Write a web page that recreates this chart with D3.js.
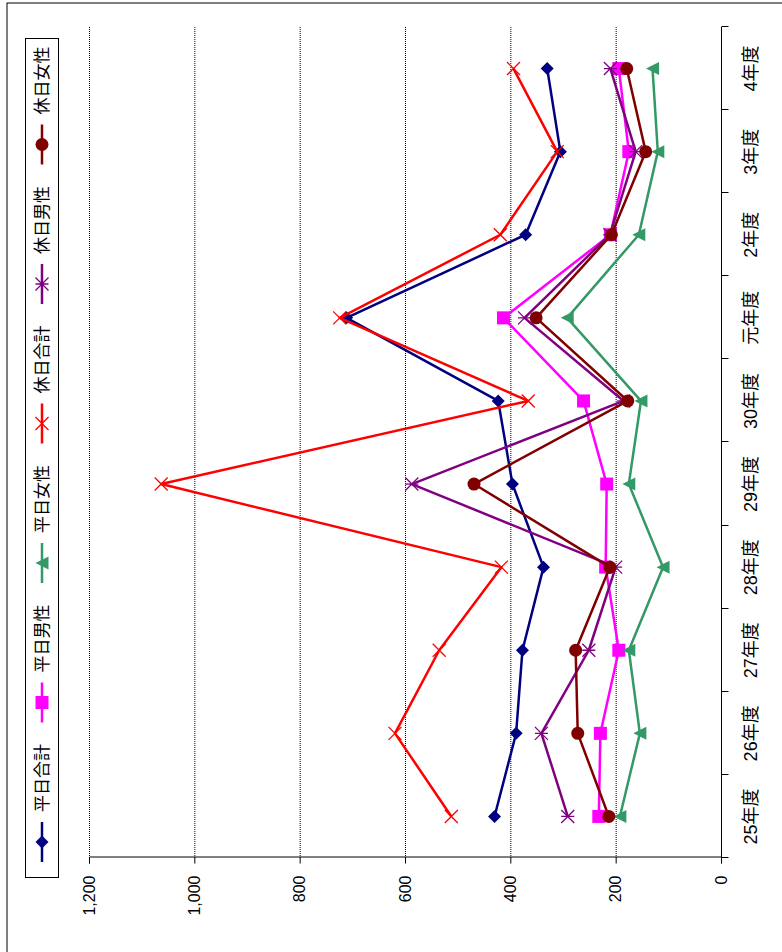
<!DOCTYPE html>
<html><head><meta charset="utf-8">
<script src="https://cdn.jsdelivr.net/npm/d3@7"></script>
<style>
html,body{margin:0;padding:0;background:#fff;}
svg{display:block;}
text{font-family:"Liberation Sans","Noto Sans CJK JP",sans-serif;fill:#000;}
</style></head><body>
<script>
const categories = ["25年度","26年度","27年度","28年度","29年度","30年度","元年度","2年度","3年度","4年度"];
const seriesNames = ["平日合計","平日男性","平日女性","休日合計","休日男性","休日女性"];
const heijitsuGokei = [430, 389, 377, 337, 396, 423, 711, 371, 305, 330];
const heijitsuDansei = [232, 229, 194, 219, 217, 261, 413, 210, 175, 194];
const heijitsuJosei = [192, 154, 175, 110, 175, 152, 292, 156, 120, 130];
const kyujitsuGokei = [512, 619, 535, 417, 1063, 366, 724, 419, 311, 394];
const kyujitsuDansei = [291, 341, 251, 200, 587, 185, 373, 211, 162, 210];
const kyujitsuJosei = [213, 272, 276, 211, 469, 177, 351, 208, 143, 179];
const valueTicks = [0, 200, 400, 600, 800, 1000, 1200];
const seriesColors = ["#000080","#FF00FF","#339966","#FF0000","#800080","#800000"];
const seriesMarkers = ["diamond","square","triangle","x","star","circle"];

const seriesData = [heijitsuGokei, heijitsuDansei, heijitsuJosei, kyujitsuGokei, kyujitsuDansei, kyujitsuJosei];

const SW = 782, SH = 952;
const svg = d3.select("body").append("svg").attr("width", SW).attr("height", SH);
// whole chart is drawn landscape (952 x 782) and rotated -90deg
const g = svg.append("g").attr("transform", `translate(0,${SH}) rotate(-90)`);

// outer frame
g.append("rect").attr("x", -10).attr("y", 7).attr("width", 959).attr("height", 800)
  .attr("fill", "none").attr("stroke", "#000").attr("stroke-width", 1);

const x = d3.scaleBand().domain(categories).range([94, 925]);
const y = d3.scaleLinear().domain([0, 1200]).range([721, 89]);

// gridlines
g.append("g").selectAll("line").data(valueTicks.filter(v => v > 0)).join("line")
  .attr("x1", 94).attr("x2", 925)
  .attr("y1", d => y(d) + 0.5).attr("y2", d => y(d) + 0.5)
  .attr("stroke", "#000").attr("stroke-width", 1).attr("stroke-dasharray", "1,1");

// value axis (left in landscape)
const yAxis = d3.axisLeft(y).tickValues(valueTicks).tickSize(6).tickPadding(12)
  .tickFormat(d3.format(","));
const ya = g.append("g").attr("transform", "translate(94.5,0)").call(yAxis);
ya.select(".domain").attr("stroke", "#000");
ya.selectAll(".tick line").attr("stroke", "#000");
ya.selectAll(".tick text").style("font-size", "16px").attr("font-family", null);

// category axis (bottom in landscape)
const xa = g.append("g").attr("transform", "translate(0,721.5)");
xa.append("line").attr("x1", 94).attr("x2", 925).attr("stroke", "#000");
const bounds = categories.map(c => x(c)).concat([x.range()[1]]);
xa.selectAll("line.tk").data(bounds).join("line").attr("class", "tk")
  .attr("x1", d => Math.round(d) + 0.5).attr("x2", d => Math.round(d) + 0.5)
  .attr("y1", 0).attr("y2", 7).attr("stroke", "#000");
xa.selectAll("text").data(categories).join("text")
  .attr("x", d => x(d) + x.bandwidth() / 2).attr("y", 29)
  .attr("text-anchor", "middle").attr("dominant-baseline", "central")
  .style("font-size", "18px").text(d => d);

function drawMarker(sel, type, color, cx, cy) {
  const s = 6.5;
  if (type === "diamond") {
    sel.append("path").attr("d", `M${cx},${cy - s}L${cx + s},${cy}L${cx},${cy + s}L${cx - s},${cy}Z`).attr("fill", color);
  } else if (type === "square") {
    sel.append("rect").attr("x", cx - s).attr("y", cy - s).attr("width", 2 * s).attr("height", 2 * s).attr("fill", color);
  } else if (type === "triangle") {
    sel.append("path").attr("d", `M${cx},${cy - s}L${cx + s},${cy + s}L${cx - s},${cy + s}Z`).attr("fill", color);
  } else if (type === "circle") {
    sel.append("circle").attr("cx", cx).attr("cy", cy).attr("r", s).attr("fill", color);
  } else if (type === "x") {
    sel.append("path").attr("d", `M${cx - s},${cy - s}L${cx + s},${cy + s}M${cx - s},${cy + s}L${cx + s},${cy - s}`)
      .attr("stroke", color).attr("stroke-width", 1.3).attr("fill", "none");
  } else if (type === "star") {
    sel.append("path").attr("d", `M${cx - s},${cy - s}L${cx + s},${cy + s}M${cx - s},${cy + s}L${cx + s},${cy - s}M${cx},${cy - s}L${cx},${cy + s}`)
      .attr("stroke", color).attr("stroke-width", 1.3).attr("fill", "none");
  }
}

const line = d3.line().x((d, i) => x(categories[i]) + x.bandwidth() / 2).y(d => y(d));
seriesData.forEach((vals, si) => {
  const sg = g.append("g");
  sg.append("path").datum(vals).attr("d", line).attr("fill", "none")
    .attr("stroke", seriesColors[si]).attr("stroke-width", 2.5).attr("stroke-linejoin", "round");
  vals.forEach((v, i) => drawMarker(sg, seriesMarkers[si], seriesColors[si], x(categories[i]) + x.bandwidth() / 2, y(v)));
});

// legend (top in landscape)
const lg = g.append("g");
lg.append("rect").attr("x", 74.5).attr("y", 25.5).attr("width", 839).attr("height", 33)
  .attr("fill", "#fff").attr("stroke", "#000").attr("stroke-width", 1);
seriesNames.forEach((name, i) => {
  const mx = 110 + i * 139.5, my = 42;
  lg.append("line").attr("x1", mx - 20).attr("x2", mx + 20).attr("y1", my).attr("y2", my)
    .attr("stroke", seriesColors[i]).attr("stroke-width", 2.5);
  drawMarker(lg, seriesMarkers[i], seriesColors[i], mx, my);
  lg.append("text").attr("x", mx + 30).attr("y", my).attr("dominant-baseline", "central")
    .style("font-size", "17px").text(name);
});
</script>
</body></html>
